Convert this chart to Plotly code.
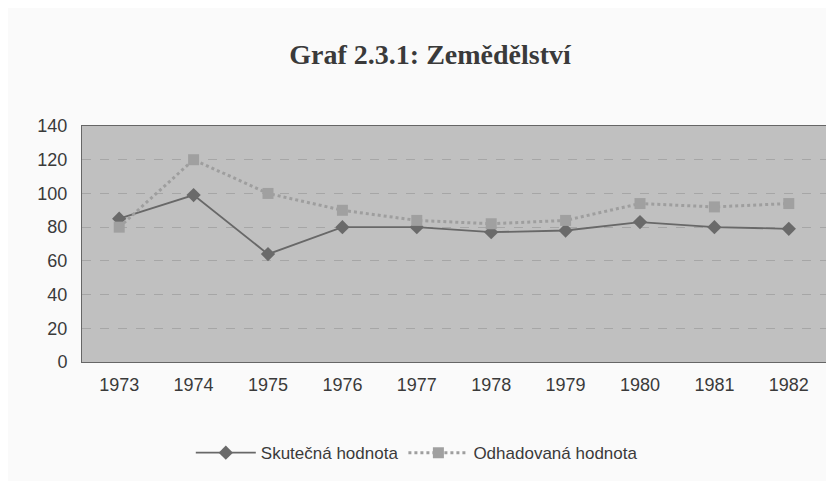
import plotly.graph_objects as go

years = ["1973", "1974", "1975", "1976", "1977", "1978", "1979", "1980", "1981", "1982"]
skutecna = [85, 99, 64, 80, 80, 77, 78, 83, 80, 79]
odhadovana = [80, 120, 100, 90, 84, 82, 84, 94, 92, 94]
y_ticks = [0, 20, 40, 60, 80, 100, 120, 140]

fig = go.Figure()
fig.add_trace(go.Scatter(
    x=years, y=skutecna, name="Skutečná hodnota", mode="lines+markers",
    line=dict(color="#686868", width=1.8),
    marker=dict(symbol="diamond", size=11, color="#6a6a6a"),
))
fig.add_trace(go.Scatter(
    x=years, y=odhadovana, name="Odhadovaná hodnota", mode="lines+markers",
    line=dict(color="#9e9e9e", width=3, dash="dot"),
    marker=dict(symbol="square", size=11, color="#a0a0a0"),
))

fig.update_layout(
    width=826, height=473,
    paper_bgcolor="#fafafa", plot_bgcolor="#c0c0c0",
    margin=dict(l=74, r=8, t=118, b=119),
    title=dict(text="Graf 2.3.1: Zemědělství", x=0.511, xanchor="center", y=0.903, yanchor="middle",
               font=dict(family="Liberation Serif", size=28, color="#3a3a3a", weight="bold")),
    font=dict(family="Liberation Sans", size=18, color="#3a3a3a"),
    showlegend=True,
    legend=dict(orientation="h", x=0.45, xanchor="center", y=-0.386, yanchor="middle",
                font=dict(size=17, color="#3a3a3a"), bgcolor="rgba(0,0,0,0)",
                itemwidth=60),
    xaxis=dict(type="category", range=[-0.5, 9.5], showgrid=False, ticks="",
               showline=True, linecolor="#666666", mirror=True, linewidth=1,
               ticklabelstandoff=6),
    yaxis=dict(range=[0, 140], tickvals=y_ticks, showgrid=True, gridcolor="#a6a6a6",
               griddash="dash", gridwidth=1, zeroline=False, showline=True,
               linecolor="#666666", mirror=True, linewidth=1, ticks="", ticklabelstandoff=10),
)

fig.write_html("out.html")
